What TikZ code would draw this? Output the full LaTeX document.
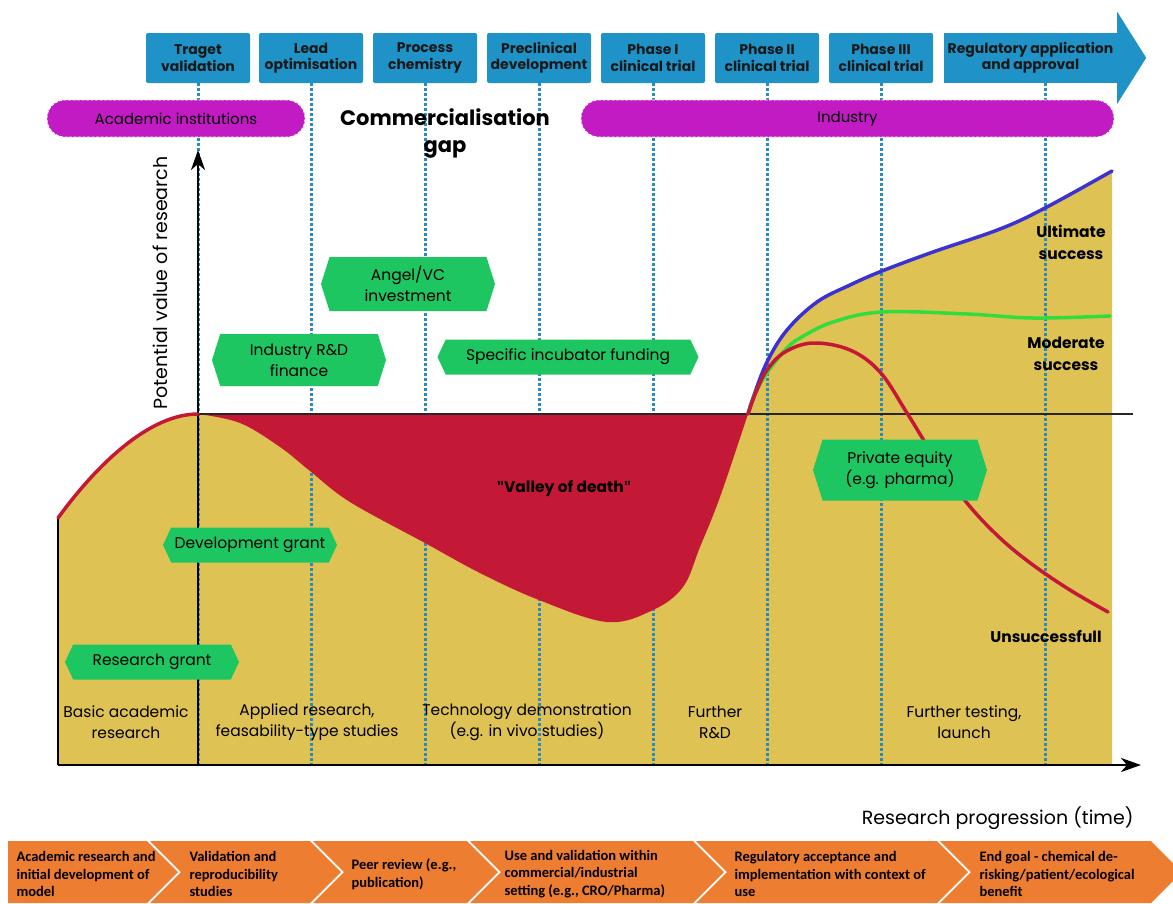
\documentclass[tikz,border=0pt]{standalone}
\usepackage{fontspec}
\setmainfont{Poppins}
\newfontfamily\carlito{Carlito}
\newfontfamily\plainquote{Open Sans}
\usetikzlibrary{arrows.meta,positioning,shapes.symbols}

\definecolor{stageblue}{RGB}{31,146,199}
\definecolor{sectorpink}{RGB}{194,27,196}
\definecolor{fundgreen}{RGB}{30,198,98}
\definecolor{fieldyellow}{RGB}{222,194,84}
\definecolor{valleyred}{RGB}{196,25,54}
\definecolor{guideblue}{RGB}{42,140,190}
\definecolor{ultblue}{RGB}{60,50,210}
\definecolor{modgreen}{RGB}{50,220,60}
\definecolor{bandorange}{RGB}{237,125,49}

\tikzset{
  stage/.style={fill=stageblue, rounded corners=2pt, minimum width=104, minimum height=50,
    align=center, text=black!90, inner sep=1pt, font=\bfseries\fontsize{14}{16.5}\selectfont},
  sector/.style={fill=sectorpink, draw=white, dash pattern=on 3pt off 1.5pt, line width=0.8pt,
    rounded corners=18pt, minimum height=37, font=\fontsize{15}{17}\selectfont},
  fund/.style={signal, signal to=west and east, signal pointer angle=130, fill=fundgreen,
    minimum width=174, align=center, inner sep=2pt, font=\fontsize{15.5}{21}\selectfont},
  guide/.style={guideblue, line width=3pt, dash pattern=on 2.5pt off 2.5pt},
  outcome/.style={align=center, font=\bfseries\fontsize{15.5}{22}\selectfont},
  phase/.style={align=center, font=\fontsize{15.5}{21}\selectfont},
  curve/.style={line width=3.5pt, line cap=round},
  axis/.style={line width=2.5pt, -{Stealth[length=20pt, width=14pt, inset=6pt]}},
  pathnote/.style={anchor=west, align=left, font=\carlito\bfseries\fontsize{14.5}{17.5}\selectfont}
}

\begin{document}
\begin{tikzpicture}[x=1pt, y=-1pt]
  \useasboundingbox (0,0) rectangle (1173,903);

  % Stages along the top
  \node[stage] (tv) at (198,58) {Traget\\validation};
  \node[stage] (lo) at (311,58) {Lead\\optimisation};
  \node[stage] (pc) at (425,58) {Process\\chemistry};
  \node[stage] (pd) at (539,58) {Preclinical\\development};
  \node[stage] (p1) at (653,58) {Phase I\\clinical trial};
  \node[stage] (p2) at (767,58) {Phase II\\clinical trial};
  \node[stage] (p3) at (881,58) {Phase III\\clinical trial};
  \node[stage, minimum width=173, rounded corners=0pt] (ra) at (1030.5,58) {Regulatory application\\and approval};
  \fill[stageblue] (ra.north east) ++(0,-21) -- ++(29,46) -- ++(-29,46) -- cycle;

  % Axis points
  \coordinate (o) at (198,765);
  \coordinate (ytip) at (198,150);
  \coordinate (xstart) at (58,765);
  \coordinate (xtip) at (1141,765);
  \coordinate (lvl) at (198,414);
  \coordinate (lvlend) at (1133,414);
  \coordinate (rg) at (1045,83);

  % Value field
  \fill[fieldyellow] (xstart) -- (58,518) .. controls (98,463) and (150,414) .. (lvl) -- (748,414)
    -- plot[smooth, tension=0.6] coordinates {(748,414) (753,398) (767,362) (787,330) (817,302) (850,285)
       (882,271) (933,252) (1000,229) (1045,208) (1112,171)}
    -- (1112,765) -- cycle;

  % Stage guides
  \draw[guide] (tv.south) -- (tv.south |- o);
  \draw[guide] (lo.south) -- (lo.south |- o);
  \draw[guide] (pc.south) -- (pc.south |- o);
  \draw[guide] (pd.south) -- (pd.south |- o);
  \draw[guide] (p1.south) -- (p1.south |- o);
  \draw[guide] (p2.south) -- (p2.south |- o);
  \draw[guide] (p3.south) -- (p3.south |- o);
  \draw[guide] (rg) -- (rg |- o);

  % Sectors
  \node[sector, minimum width=258] (acad) at (176,118.5) {Academic institutions};
  \node[sector, minimum width=533] (ind) at (847.5,118.5) {Industry};
  \node[font=\bfseries\fontsize{21}{27}\selectfont, align=center] (gap) at (445,133) {Commercialisation\\gap};

  % Valley of death
  \fill[valleyred] plot[smooth, tension=0.6] coordinates {(198,414) (240,423) (280,447) (310,471) (350,502)
    (425,543) (480,573) (539,600) (607,622) (653,610) (683,587) (700,547) (720,497) (748,414)} -- cycle;

  % Axes
  \draw[black!85, line width=1.6pt] (lvl) -- (lvlend);
  \draw[line width=2pt] (58,518) -- (xstart);
  \draw[axis] (o) -- (ytip);
  \draw[axis] (xstart) -- (xtip);

  % Outcome curves
  \draw[curve, valleyred] (58,518) .. controls (98,463) and (150,414) .. (lvl);
  \draw[curve, ultblue] plot[smooth, tension=0.6] coordinates {(748,414) (753,398) (767,362) (787,330)
    (817,302) (850,285) (882,271) (933,252) (1000,229) (1045,208) (1112,171)};
  \draw[curve, modgreen] plot[smooth, tension=0.6] coordinates {(748,414) (756,392) (767,373) (785,350)
    (800,338) (833,322) (882,312) (967,314) (1033,318) (1110,316)};
  \draw[curve, valleyred] plot[smooth, tension=0.6] coordinates {(748,414) (756,392) (767,370) (785,352)
    (813,343) (850,350) (880,372) (907,413) (935,458) (967,503) (1000,538) (1033,565) (1070,590) (1108,612)};

  % Funding
  \node[fund, minimum height=54, signal pointer angle=145] (angel) at (408,284) {Angel/VC\\investment};
  \node[fund, minimum height=52, signal pointer angle=145] (indrd) at (299,360) {Industry R\&D\\finance};
  \node[fund, minimum width=261, minimum height=35] (incub) at (568,357) {Specific incubator funding};
  \node[fund, minimum height=35] (devgr) at (250,545) {Development grant};
  \node[fund, minimum height=35] (resgr) at (152,662) {Research grant};
  \node[fund, minimum height=61, signal pointer angle=145] (priv) at (900,470) {Private equity\\(e.g. pharma)};

  % Labels
  \node[outcome] (ult) at (1071,242) {Ultimate\\success};
  \node[outcome] (mod) at (1066,354) {Moderate\\success};
  \node[outcome] (uns) at (1046,636) {Unsuccessfull};
  \node[outcome] (vod) at (564,488) {{\plainquote\symbol{34}}Valley of death{\plainquote\symbol{34}}};
  \node[phase] (basic) at (126,722) {Basic academic\\research};
  \node[phase] (appl) at (307,722) {Applied research,\\feasability-type studies};
  \node[phase] (tech) at (527,722) {Technology demonstration\\(e.g. in vivo studies)};
  \node[phase] (frd) at (715,722) {Further\\R\&D};
  \node[phase] (ftl) at (964,722) {Further testing,\\launch};
  \node[font=\fontsize{19}{22}\selectfont, anchor=east] (prog) at (1137,818) {Research progression (time)};
  \node[font=\fontsize{19}{22}\selectfont, rotate=90] (ylab) at (160,283) {Potential value of research};

  % Validation pathway
  \fill[bandorange] (8,841) -- (147,841) -- (178,872) -- (147,903) -- (8,903) -- cycle;
  \fill[bandorange] (150,841) -- (310,841) -- (341,872) -- (310,903) -- (150,903) -- (181,872) -- cycle;
  \fill[bandorange] (313,841) -- (467,841) -- (498,872) -- (467,903) -- (313,903) -- (344,872) -- cycle;
  \fill[bandorange] (470,841) -- (693,841) -- (724,872) -- (693,903) -- (470,903) -- (501,872) -- cycle;
  \fill[bandorange] (696,841) -- (937,841) -- (968,872) -- (937,903) -- (696,903) -- (727,872) -- cycle;
  \fill[bandorange] (940,841) -- (1151,841) -- (1182,872) -- (1151,903) -- (940,903) -- (971,872) -- cycle;
  \node[pathnote] (n1) at (13,874) {Academic research and\\initial development of\\model};
  \node[pathnote] (n2) at (186,874) {Validation and\\reproducibility\\studies};
  \node[pathnote] (n3) at (348,874) {Peer review (e.g.,\\publication)};
  \node[pathnote] (n4) at (501,874) {Use and validation within\\commercial/industrial\\setting (e.g., CRO/Pharma)};
  \node[pathnote] (n5) at (731,874) {Regulatory acceptance and\\implementation with context of\\use};
  \node[pathnote] (n6) at (976,874) {End goal - chemical de-\\risking/patient/ecological\\benefit};
\end{tikzpicture}
\end{document}
